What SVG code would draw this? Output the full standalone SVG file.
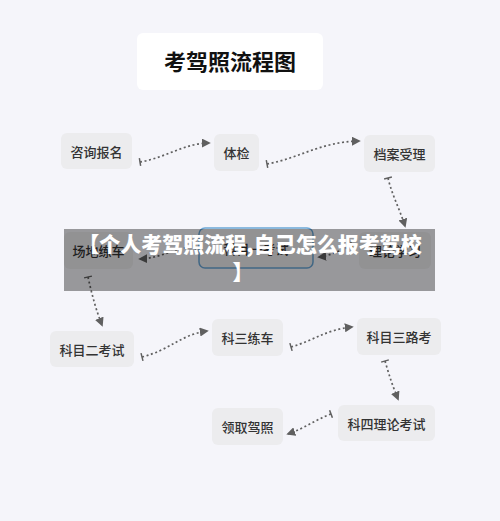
<svg xmlns="http://www.w3.org/2000/svg" width="500" height="521" viewBox="0 0 500 521">
<defs>
<style>
.bg{fill:#f5f5fa}
.node rect{fill:#ececee;rx:6px}
.node text{font-family:"Noto Sans CJK SC","Noto Sans",sans-serif;font-size:13px;font-weight:500;fill:#333;text-anchor:middle;dominant-baseline:central}
.conn path{fill:none;stroke:#606060;stroke-width:1.7;stroke-dasharray:2 2.6;marker-end:url(#ah);marker-start:url(#tk)}
.title rect{fill:#fff}
.title text{font-family:"Noto Sans CJK SC","Noto Sans",sans-serif;font-size:22px;font-weight:700;fill:#111;text-anchor:middle}
.banner text{font-family:"Noto Sans CJK SC","Noto Sans",sans-serif;font-size:21px;font-weight:900;fill:#fff;text-anchor:middle}
</style>
<marker id="ah" viewBox="0 0 10 10" refX="8" refY="5" markerWidth="9" markerHeight="9" markerUnits="userSpaceOnUse" orient="auto">
<path d="M0,0 L10,5 L0,10 z" fill="#606060"/>
</marker>
<marker id="tk" viewBox="-2 -5 4 10" refX="0" refY="0" markerWidth="4" markerHeight="10" markerUnits="userSpaceOnUse" orient="auto">
<path d="M0,-4 L0,4" stroke="#606060" stroke-width="1.5"/>
</marker>
</defs>
<rect class="bg" x="0" y="0" width="500" height="521"/>
<g id="title" class="title">
<rect x="137" y="33" width="186" height="57" rx="6"/>
<text x="230" y="70">考驾照流程图</text>
</g>
<g id="connectors" class="conn">
<path d="M140,162 C165,158 185,143 209,143"/>
<path d="M267,164 C300,158 320,142 359,141"/>
<path d="M388,178 C392,195 400,210 405,226"/>
<path d="M352,246 C340,250 330,256 319,257"/>
<path d="M195,246 C170,250 160,258 140,259"/>
<path d="M88,277 C92,295 96,310 102,325"/>
<path d="M142,357 C170,350 180,335 207,331"/>
<path d="M291,347 C315,340 325,330 352,327"/>
<path d="M385,361 C389,375 393,387 398,399"/>
<path d="M331,414 C315,420 305,428 288,434"/>
</g>
<g id="n1" class="node"><rect x="61" y="133" width="71" height="36"/><text x="96.5" y="151.5">咨询报名</text></g>
<g id="n2" class="node"><rect x="214" y="134" width="45" height="37"/><text x="236.5" y="152.5">体检</text></g>
<g id="n3" class="node"><rect x="364" y="135" width="71" height="37"/><text x="399.5" y="153.5">档案受理</text></g>
<g id="n4" class="node"><rect x="359" y="232" width="72" height="37"/><text x="395" y="250.5">理论学习</text></g>
<g id="n5" class="node"><rect x="199" y="228" width="114" height="40" style="stroke:#6aa6d6;stroke-width:1.5"/><text x="256" y="248">科目一考试</text></g>
<g id="n6" class="node"><rect x="64" y="232" width="69" height="37"/><text x="98.5" y="250.5">场地练车</text></g>
<g id="n7" class="node"><rect x="50" y="331" width="84" height="36"/><text x="92" y="349">科目二考试</text></g>
<g id="n8" class="node"><rect x="212" y="319" width="71" height="37"/><text x="247.5" y="337.5">科三练车</text></g>
<g id="n9" class="node"><rect x="357" y="318" width="84" height="37"/><text x="399" y="336.5">科目三路考</text></g>
<g id="n10" class="node"><rect x="338" y="405" width="97" height="36"/><text x="386.5" y="423">科四理论考试</text></g>
<g id="n11" class="node"><rect x="212" y="408" width="71" height="37"/><text x="247.5" y="426.5">领取驾照</text></g>
<g id="banner" class="banner">
<rect x="64" y="229" width="371" height="62" fill="#000" fill-opacity="0.38"/>
<text x="250" y="252">【个人考驾照流程,自己怎么报考驾校</text>
<text x="243" y="280">】</text>
</g>
</svg>
